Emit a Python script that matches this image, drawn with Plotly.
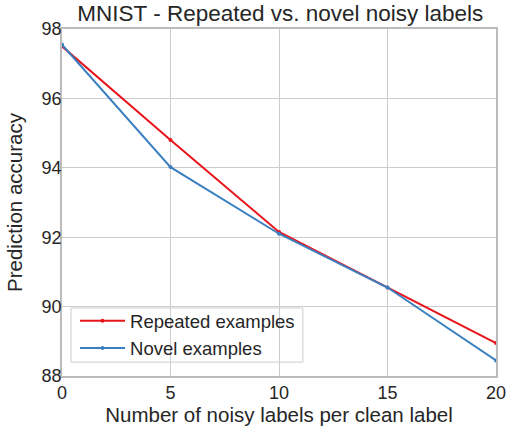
import plotly.graph_objects as go

x_vals = [0, 5, 10, 15, 20]
repeated = [97.5, 94.8, 92.15, 90.55, 88.95]
novel = [97.55, 94.02, 92.1, 90.55, 88.45]
x_ticks = [0, 5, 10, 15, 20]
y_ticks = [88, 90, 92, 94, 96, 98]

font = "Liberation Sans, Arial, sans-serif"
txt = "#262626"

fig = go.Figure()
fig.add_trace(go.Scatter(x=x_vals, y=repeated, mode="lines+markers", name="Repeated examples",
                         line=dict(color="#e8141c", width=2), marker=dict(size=4, color="#e8141c")))
fig.add_trace(go.Scatter(x=x_vals, y=novel, mode="lines+markers", name="Novel examples",
                         line=dict(color="#3a7fc0", width=2), marker=dict(size=4, color="#3a7fc0")))

axis_common = dict(showgrid=True, gridcolor="#cccccc", gridwidth=1, showline=True,
                   linecolor="#bbbbbb", linewidth=1.5, mirror=True, zeroline=False,
                   ticks="", automargin=False,
                   tickfont=dict(size=18, color=txt, family=font))

fig.update_layout(
    width=507, height=427,
    margin=dict(l=62, r=11, t=29, b=51),
    paper_bgcolor="white", plot_bgcolor="white",
    title=dict(text="MNIST - Repeated vs. novel noisy labels", x=0.553, xanchor="center",
               yref="container", y=0.97, yanchor="middle",
               font=dict(size=22.5, color=txt, family=font)),
    xaxis=dict(range=[0, 20], tickvals=x_ticks,
               title=dict(text="Number of noisy labels per clean label", standoff=4,
                          font=dict(size=20.5, color=txt, family=font)), **axis_common),
    yaxis=dict(range=[88, 98], tickvals=y_ticks, ticklabelstandoff=-5,
               title=dict(text="Prediction accuracy", standoff=13,
                          font=dict(size=20.5, color=txt, family=font)), **axis_common),
    legend=dict(x=0.03, y=0.025, xanchor="left", yanchor="bottom", bgcolor="rgba(0,0,0,0)",
                borderwidth=0, itemwidth=45,
                font=dict(size=18.5, color=txt, family=font), tracegroupgap=0),
    showlegend=True,
    shapes=[dict(type="rect", xref="paper", yref="paper", x0=0.0207, x1=0.555, y0=0.040, y1=0.196,
                 line=dict(color="#cccccc", width=1), fillcolor="white", layer="between")],
)

fig.write_html("out.html", config={"displayModeBar": False},
               post_script="document.body.style.margin='0';document.body.style.padding='0';")
